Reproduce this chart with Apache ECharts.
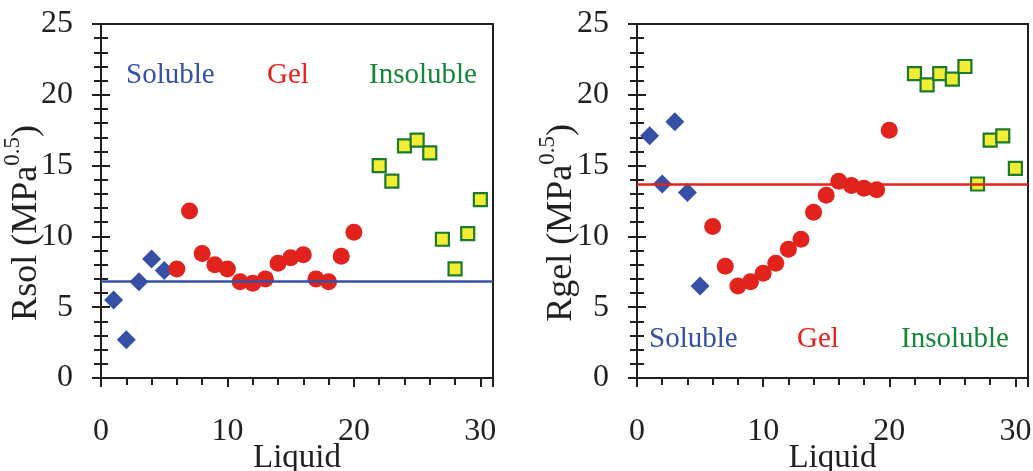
<!DOCTYPE html>
<html>
<head>
<meta charset="utf-8">
<script src="https://cdn.jsdelivr.net/npm/echarts@6/dist/echarts.min.js"></script>
<style>
html,body{margin:0;padding:0;background:#fff;}
#c{width:1033px;height:471px;}
</style>
</head>
<body>
<div id="c"></div>
<script>
// ---- data ----
const solubleX = [1, 2, 3, 4, 5];
const gelX = [6, 7, 8, 9, 10, 11, 12, 13, 14, 15, 16, 17, 18, 19, 20];
const insolubleX = [22, 23, 24, 25, 26, 27, 28, 29, 30];

const rsolSoluble = [5.5, 2.7, 6.8, 8.4, 7.6];
const rsolGel = [7.7, 11.8, 8.8, 8.0, 7.7, 6.8, 6.7, 7.0, 8.1, 8.5, 8.7, 7.0, 6.8, 8.6, 10.3];
const rsolInsoluble = [15.0, 13.9, 16.4, 16.8, 15.9, 9.8, 7.7, 10.2, 12.6];
const rsolRef = 6.83;

const rgelSoluble = [17.1, 13.7, 18.1, 13.1, 6.5];
const rgelGel = [10.7, 7.9, 6.5, 6.8, 7.4, 8.1, 9.1, 9.8, 11.7, 12.9, 13.9, 13.6, 13.4, 13.3, 17.5];
const rgelInsoluble = [21.5, 20.7, 21.5, 21.1, 22.0, 13.7, 16.8, 17.1, 14.8];
const rgelRef = 13.65;

const groupNames = ['Soluble', 'Gel', 'Insoluble'];
const xTickLabels = ['0', '10', '20', '30'];
const yTickLabels = ['0', '5', '10', '15', '20', '25'];
const xAxisTitle = 'Liquid';
const yTitles = ['Rsol', 'Rgel'];

// ---- styling / layout ----
const FONT = "'Liberation Serif', 'Times New Roman', serif";
const TXT = '#231f20';
const BLUE = '#3550a5';
const RED = '#e2231d';
const GREEN = '#17873a';
const YELLOW = '#f2ed35';
const SQBORDER = '#1c7a2c';
const GRIDS = [
  { left: 101, top: 24, width: 392, height: 354 },
  { left: 637, top: 24, width: 391, height: 354 }
];

function pairs(xs, ys) { return xs.map((x, i) => [x, ys[i]]); }

function xMain(gi) {
  return {
    type: 'value', gridIndex: gi, min: 0, max: 31, interval: 10,
    name: xAxisTitle, nameLocation: 'middle', nameGap: 64, nameMoveOverlap: false,
    nameTextStyle: { fontFamily: FONT, fontSize: 33, color: TXT },
    axisLine: { show: true, onZero: false, lineStyle: { color: TXT, width: 2 } },
    axisTick: { show: true, inside: false, length: 9, lineStyle: { color: TXT, width: 2 } },
    minorTick: { show: true, splitNumber: 5, length: 7, lineStyle: { color: TXT, width: 2 } },
    axisLabel: {
      fontFamily: FONT, fontSize: 32, color: TXT, margin: 38, showMaxLabel: false,
      formatter: v => (v % 10 === 0 ? xTickLabels[v / 10] : '')
    },
    splitLine: { show: false }
  };
}
function xInner(gi) {
  return {
    type: 'value', gridIndex: gi, min: 0, max: 31, interval: 10,
    axisLine: { show: false },
    axisTick: { show: true, inside: true, length: 9, lineStyle: { color: TXT, width: 2 } },
    minorTick: { show: false },
    axisLabel: { show: false, showMaxLabel: false },
    splitLine: { show: false }
  };
}
function yMain(gi, title, gap) {
  return {
    type: 'value', gridIndex: gi, min: 0, max: 25, interval: 5,
    name: '{n|' + title + ' (MPa}{s|0.5}{n|)}',
    nameLocation: 'middle', nameGap: gap, nameRotate: 90, nameMoveOverlap: false,
    nameTextStyle: {
      fontFamily: FONT, color: TXT, padding: [0, 44, 0, 0],
      rich: {
        n: { fontFamily: FONT, fontSize: 36, color: TXT, lineHeight: 44, verticalAlign: 'bottom' },
        s: { fontFamily: FONT, fontSize: 23, color: TXT, lineHeight: 44, verticalAlign: 'top' }
      }
    },
    axisLine: { show: true, onZero: false, lineStyle: { color: TXT, width: 2 } },
    axisTick: { show: true, inside: false, length: 9, lineStyle: { color: TXT, width: 2 } },
    minorTick: { show: true, splitNumber: 5, length: 7, lineStyle: { color: TXT, width: 2 } },
    axisLabel: {
      fontFamily: FONT, fontSize: 32, color: TXT, margin: 28,
      formatter: v => yTickLabels[v / 5]
    },
    splitLine: { show: false }
  };
}
function yInner(gi) {
  return {
    type: 'value', gridIndex: gi, min: 0, max: 25, interval: 5, position: 'left',
    axisLine: { show: false },
    axisTick: { show: true, inside: true, length: 9, lineStyle: { color: TXT, width: 2 } },
    minorTick: { show: true, splitNumber: 5, length: 7, lineStyle: { color: TXT, width: 2 } },
    axisLabel: { show: false },
    splitLine: { show: false }
  };
}

function groupSeries(xi, yi, sol, gel, ins, refVal, refColor) {
  return [
    {
      type: 'scatter', name: groupNames[0], xAxisIndex: xi, yAxisIndex: yi,
      symbol: 'diamond', symbolSize: 19, itemStyle: { color: BLUE, opacity: 1 },
      data: pairs(solubleX, sol), z: 3,
      markLine: {
        silent: true, symbol: 'none', label: { show: false },
        lineStyle: { color: refColor, width: 2.5, type: 'solid', opacity: 1 },
        data: [{ yAxis: refVal }]
      }
    },
    {
      type: 'scatter', name: groupNames[1], xAxisIndex: xi, yAxisIndex: yi,
      symbol: 'circle', symbolSize: 17, itemStyle: { color: RED, opacity: 1 },
      data: pairs(gelX, gel), z: 3
    },
    {
      type: 'scatter', name: groupNames[2], xAxisIndex: xi, yAxisIndex: yi,
      symbol: 'rect', symbolSize: 13,
      itemStyle: { color: YELLOW, borderColor: SQBORDER, borderWidth: 2.2, opacity: 1 },
      data: pairs(insolubleX, ins), z: 3
    }
  ];
}

function label(text, x, y, color) {
  return {
    type: 'text', x: x, y: y, silent: true, z: 10,
    style: { text: text, fontFamily: FONT, fontSize: 29, fill: color, verticalAlign: 'middle', align: 'left' }
  };
}
function frame(g) {
  return {
    type: 'rect', silent: true, z: 5,
    shape: { x: g.left, y: g.top, width: g.width, height: g.height },
    style: { fill: 'none', stroke: TXT, lineWidth: 2 }
  };
}

const chart = echarts.init(document.getElementById('c'), null, { renderer: 'canvas' });
chart.setOption({
  animation: false,
  backgroundColor: '#fff',
  grid: GRIDS.map(g => Object.assign({ show: false, containLabel: false, outerBoundsMode: 'none' }, g)),
  xAxis: [xMain(0), xMain(1), xInner(0), xInner(1)],
  yAxis: [yMain(0, yTitles[0], 56), yMain(1, yTitles[1], 57), yInner(0), yInner(1)],
  series: [].concat(
    groupSeries(0, 0, rsolSoluble, rsolGel, rsolInsoluble, rsolRef, BLUE),
    groupSeries(1, 1, rgelSoluble, rgelGel, rgelInsoluble, rgelRef, RED)
  ),
  graphic: [
    frame(GRIDS[0]), frame(GRIDS[1]),
    label(groupNames[0], 126, 75, BLUE),
    label(groupNames[1], 267, 75, RED),
    label(groupNames[2], 369, 75, GREEN),
    label(groupNames[0], 649, 339, BLUE),
    label(groupNames[1], 797, 339, RED),
    label(groupNames[2], 901, 339, GREEN)
  ]
});
</script>
</body>
</html>
